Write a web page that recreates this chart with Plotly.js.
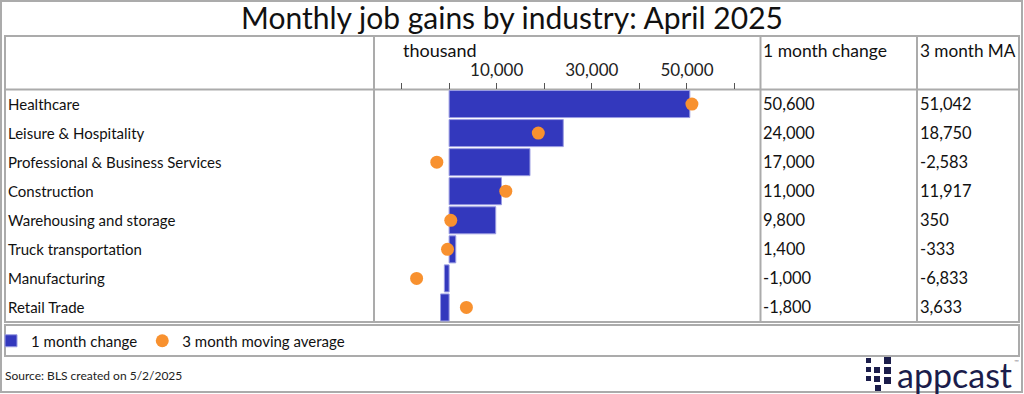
<!DOCTYPE html>
<html>
<head>
<meta charset="utf-8">
<script src="https://cdn.plot.ly/plotly-3.0.1.min.js"></script>
<style>html,body{margin:0;padding:0;background:#fff;}#chart{width:1024px;height:394px;}</style>
</head>
<body>
<div id="chart"></div>
<script>
// ---- data ----
const categories = ['Healthcare', 'Leisure & Hospitality', 'Professional & Business Services', 'Construction', 'Warehousing and storage', 'Truck transportation', 'Manufacturing', 'Retail Trade'];
const oneMonthChange = [50600, 24000, 17000, 11000, 9800, 1400, -1000, -1800];
const threeMonthMA = [51042, 18750, -2583, 11917, 350, -333, -6833, 3633];
const tickValues = [-10000, 0, 10000, 20000, 30000, 40000, 50000, 60000];
const tickLabels = ['', '', '10,000', '', '30,000', '', '50,000', ''];
const columnHeaders = ['1 month change', '3 month MA'];
const seriesNames = ['1 month change', '3 month moving average'];

// ---- layout helpers ----
const W = 1024, H = 394;
const FONT = 'Lato, "Open Sans", sans-serif';
const BAR = '#3338bd', DOT = '#f8912f', LINE = '#ababab', TXT = '#111111';
const px = x => x / W;
const py = y => 1 - y / H;
const fmt = v => v.toLocaleString('en-US');

function rect(x0, y0, x1, y1) {
  return {type: 'rect', xref: 'paper', yref: 'paper', x0: px(x0), x1: px(x1), y0: py(y0), y1: py(y1),
          line: {color: LINE, width: 2}, fillcolor: 'rgba(0,0,0,0)', layer: 'below'};
}
function seg(x0, y0, x1, y1) {
  return {type: 'line', xref: 'paper', yref: 'paper', x0: px(x0), x1: px(x1), y0: py(y0), y1: py(y1),
          line: {color: LINE, width: 2}, layer: 'below'};
}
function sq(x, y, s) {
  return {type: 'rect', xref: 'paper', yref: 'paper', x0: px(x), x1: px(x + s), y0: py(y + s), y1: py(y),
          line: {width: 0}, fillcolor: '#1b1d4b', layer: 'above'};
}

const traces = [
  {type: 'bar', orientation: 'h', name: seriesNames[0], y: categories, x: oneMonthChange,
   width: 0.93, marker: {color: BAR, line: {color: '#9a9ce2', width: 1}}, hoverinfo: 'x+y'},
  {type: 'scatter', mode: 'markers', name: seriesNames[1], y: categories, x: threeMonthMA,
   marker: {color: DOT, size: 13, line: {width: 0}}, hoverinfo: 'x+y'}
];

const annotations = [];
categories.forEach((c, i) => {
  annotations.push({xref: 'paper', yref: 'y', x: px(5.5), y: c, text: c, showarrow: false,
    xanchor: 'left', yanchor: 'middle', font: {family: FONT, size: 15, color: TXT}});
  annotations.push({xref: 'paper', yref: 'y', x: px(761), y: c, text: fmt(oneMonthChange[i]), showarrow: false,
    xanchor: 'left', yanchor: 'middle', font: {family: FONT, size: 16.5, color: TXT}});
  annotations.push({xref: 'paper', yref: 'y', x: px(918), y: c, text: fmt(threeMonthMA[i]), showarrow: false,
    xanchor: 'left', yanchor: 'middle', font: {family: FONT, size: 16.5, color: TXT}});
});
annotations.push({xref: 'paper', yref: 'paper', x: px(761), y: py(50), text: columnHeaders[0], showarrow: false,
  xanchor: 'left', yanchor: 'middle', font: {family: FONT, size: 17.5, color: TXT}});
annotations.push({xref: 'paper', yref: 'paper', x: px(918), y: py(50), text: columnHeaders[1], showarrow: false,
  xanchor: 'left', yanchor: 'middle', font: {family: FONT, size: 17.2, color: TXT}});
annotations.push({xref: 'paper', yref: 'paper', x: px(401), y: py(50), text: 'thousand', showarrow: false,
  xanchor: 'left', yanchor: 'middle', font: {family: FONT, size: 18, color: TXT}});
annotations.push({xref: 'paper', yref: 'paper', x: px(3), y: py(375), text: 'Source: BLS created on 5/2/2025', showarrow: false,
  xanchor: 'left', yanchor: 'middle', font: {family: FONT, size: 12, color: '#222'}});
annotations.push({xref: 'paper', yref: 'paper', x: px(895), y: py(374), text: 'appcast', showarrow: false,
  xanchor: 'left', yanchor: 'middle', font: {family: FONT, size: 34, color: '#1b1d4b'}});
annotations.push({xref: 'paper', yref: 'paper', x: px(1012), y: py(361), text: '™', showarrow: false,
  xanchor: 'left', yanchor: 'middle', font: {family: FONT, size: 6, color: '#888'}});

const shapes = [
  rect(1, 1, 1022, 392),
  rect(5, 36, 1019, 322),
  seg(5, 89.5, 1019, 89.5),
  seg(374, 36, 374, 322),
  seg(760.5, 36, 760.5, 322),
  seg(917, 36, 917, 322),
  rect(5, 325, 1019, 356),
  // logo mark
  sq(866, 358, 5), sq(884, 357, 7),
  sq(866, 367, 5), sq(874, 367, 6), sq(884, 367, 7),
  sq(866, 376, 5), sq(874, 376, 6), sq(884, 377, 7),
  sq(875, 385, 6)
];

const layout = {
  width: W, height: H,
  margin: {l: 0, r: 0, t: 0, b: 0, autoexpand: false},
  paper_bgcolor: '#fff', plot_bgcolor: 'rgba(0,0,0,0)',
  font: {family: FONT, size: 15, color: TXT},
  title: {text: 'Monthly job gains by industry: April 2025', x: 0.5, xanchor: 'center',
          y: py(18), yanchor: 'middle', yref: 'paper', font: {family: FONT, size: 30, color: '#111'}},
  xaxis: {domain: [px(374), px(760.5)], range: [-15790, 65460], side: 'top', showgrid: false, zeroline: false,
          showline: false, ticks: 'outside', ticklen: 6, tickwidth: 1, tickcolor: '#555',
          tickvals: tickValues, ticktext: tickLabels, tickfont: {family: FONT, size: 17, color: '#222'},
          fixedrange: true, automargin: false},
  yaxis: {domain: [py(322), py(89.5)], type: 'category', categoryorder: 'array', categoryarray: categories,
          range: [7.5, -0.5], showticklabels: false, showgrid: false, zeroline: false, showline: false,
          ticks: '', fixedrange: true, automargin: false},
  showlegend: true,
  legend: {orientation: 'h', x: px(-9), y: py(341), xanchor: 'left', yanchor: 'middle',
           font: {family: FONT, size: 15, color: TXT}, bgcolor: 'rgba(0,0,0,0)', traceorder: 'normal',
           itemwidth: 30},
  bargap: 0.07,
  shapes: shapes,
  annotations: annotations
};

Plotly.newPlot('chart', traces, layout, {displayModeBar: false, staticPlot: true});
</script>
</body>
</html>
